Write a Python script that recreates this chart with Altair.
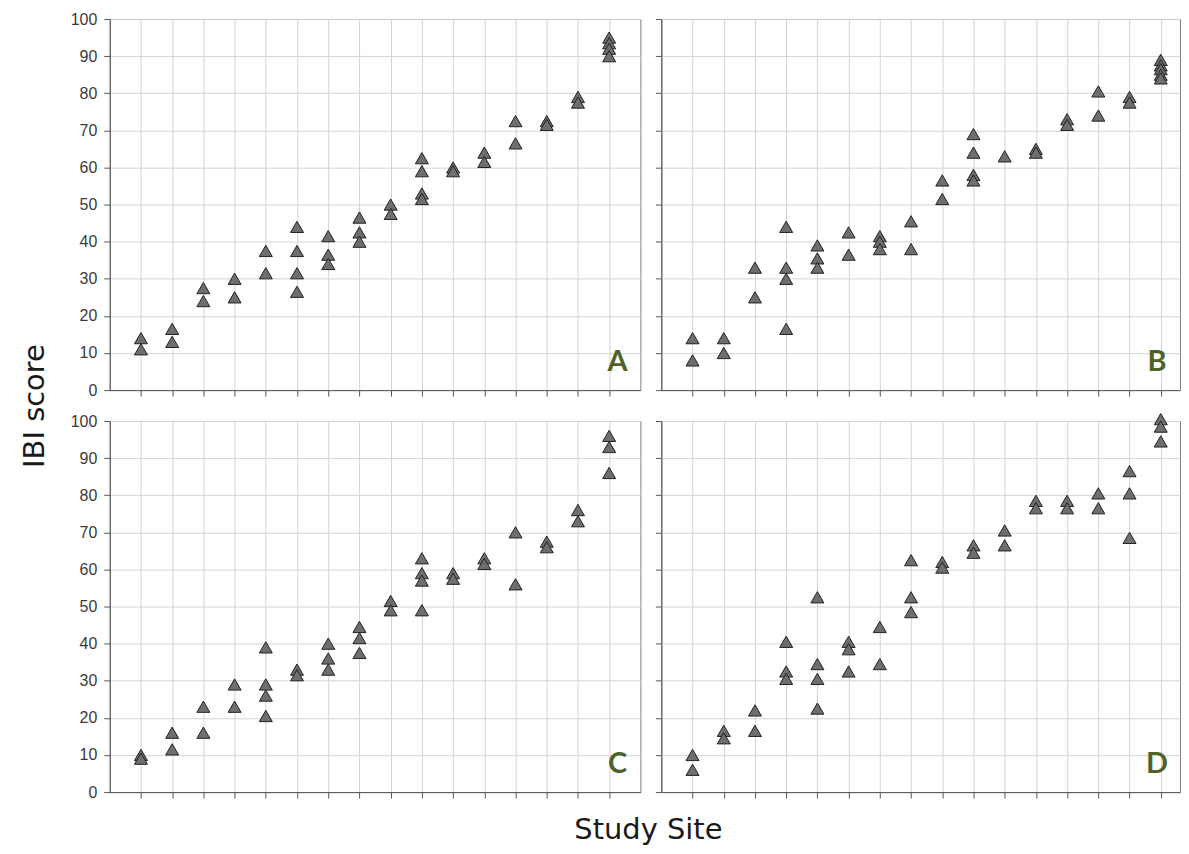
import altair as alt
import pandas as pd

sites = list(range(1, 17))

panel_a = [
    [14, 11], [16.5, 13], [27.5, 24], [30, 25], [37.5, 31.5],
    [44, 37.5, 31.5, 26.5], [41.5, 36.5, 34], [46.5, 42.5, 40], [50, 47.5],
    [62.5, 59, 53, 51.5], [60, 59], [64, 61.5], [72.5, 66.5], [72.5, 71.5],
    [79, 77.5], [95, 93.5, 92, 90],
]
panel_b = [
    [14, 8], [14, 10], [33, 25], [44, 33, 30, 16.5], [39, 35.5, 33],
    [42.5, 36.5], [41.5, 40, 38], [45.5, 38], [56.5, 51.5],
    [69, 64, 58, 56.5], [63], [65, 64], [73, 71.5], [80.5, 74],
    [79, 77.5], [89, 87.5, 86.5, 85, 84],
]
panel_c = [
    [10, 9], [16, 11.5], [23, 16], [29, 23], [39, 29, 26, 20.5],
    [33, 31.5], [40, 36, 33], [44.5, 41.5, 37.5], [51.5, 49],
    [63, 59, 57, 49], [59, 57.5], [63, 61.5], [70, 56], [67.5, 66],
    [76, 73], [96, 93, 86],
]
panel_d = [
    [10, 6], [16.5, 14.5], [22, 16.5], [40.5, 32.5, 30.5],
    [52.5, 34.5, 30.5, 22.5], [40.5, 38.5, 32.5], [44.5, 34.5],
    [62.5, 52.5, 48.5], [62, 60.5], [66.5, 64.5], [70.5, 66.5],
    [78.5, 76.5], [78.5, 76.5], [80.5, 76.5], [86.5, 80.5, 68.5],
    [100.5, 98.5, 94.5],
]
letters = ["A", "B", "C", "D"]
y_ticks = list(range(0, 101, 10))

GRID = "#d3d3d3"
AXIS = "#555555"
H = 372


def to_frame(values):
    rows = [{"site": s, "score": v} for s, vals in zip(sites, values) for v in vals]
    return pd.DataFrame(rows)


def panel(values, letter, xmax, width, show_labels, extra=None):
    df = to_frame(values)
    x = alt.X(
        "site:Q",
        scale=alt.Scale(domain=[0, xmax], nice=False, zero=False),
        axis=alt.Axis(values=sites, labels=False, ticks=True, tickSize=6,
                      tickColor=AXIS, grid=True, gridColor=GRID,
                      domainColor=AXIS, title=None),
    )
    y = alt.Y(
        "score:Q",
        scale=alt.Scale(domain=[0, 100], nice=False),
        axis=alt.Axis(values=y_ticks, labels=show_labels, ticks=True,
                      tickSize=6, tickColor=AXIS, grid=True, gridColor=GRID,
                      domainColor=AXIS, title=None, labelFont="Liberation Sans",
                      labelFontSize=16, labelColor="#3a3a3a", labelPadding=7),
    )
    pts = alt.Chart(df).mark_point(
        shape="triangle-up", filled=True, color="#6e6e6e", fill="#6e6e6e",
        stroke="#222222", strokeWidth=1, size=170, opacity=1,
    ).encode(x=x, y=y)
    lab = alt.Chart(pd.DataFrame({"t": [letter]})).mark_text(
        font="Lato", fontSize=29, fontWeight="bold", color="#4f6228",
        align="center", baseline="middle",
    ).encode(text="t:N", x=alt.value(width - 23), y=alt.value(344))
    layers = [pts, lab] + (extra or [])
    return alt.layer(*layers).properties(width=width, height=H)


ibi = alt.Chart(pd.DataFrame({"t": ["IBI score"]})).mark_text(
    font="DejaVu Sans", fontSize=29, color="#1a1a1a", angle=270,
    align="center", baseline="middle",
).encode(text="t:N", x=alt.value(-75), y=alt.value(388))

study = alt.Chart(pd.DataFrame({"t": ["Study Site"]})).mark_text(
    font="DejaVu Sans", fontSize=29, color="#1a1a1a",
    align="center", baseline="middle",
).encode(text="t:N", x=alt.value(540), y=alt.value(410))

WA = 532
WB = 520
XA = 17
XB = WB / (WA / 17)

a = panel(panel_a, "A", XA, WA, True, [ibi])
b = panel(panel_b, "B", XB, WB, False)
c = panel(panel_c, "C", XA, WA, True, [study])
d = panel(panel_d, "D", XB, WB, False)

chart = alt.concat(
    a, b, c, d, columns=2,
    spacing=alt.RowColnumber(row=31, column=21),
    bounds="flush",
).properties(
    padding={"left": 12, "top": 1, "right": 0, "bottom": 0},
    background="white",
).configure_view(stroke="#7f7f7f", strokeWidth=1)

chart.save("out.html", embed_options={"renderer": "svg", "actions": False})
